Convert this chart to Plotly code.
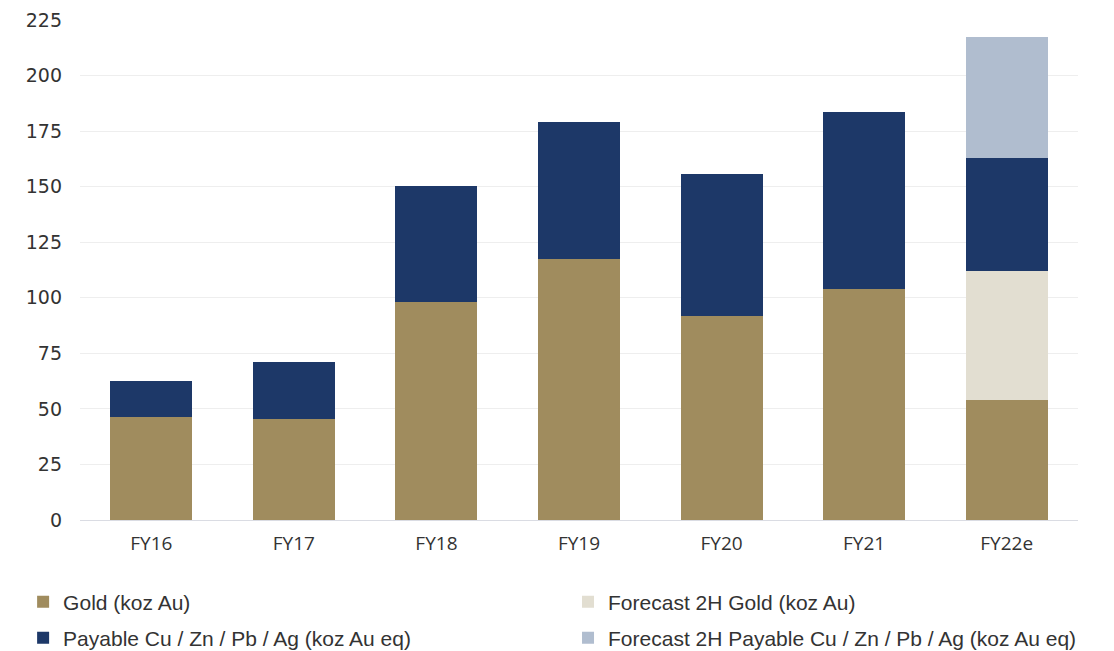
import plotly.graph_objects as go

categories = ["FY16", "FY17", "FY18", "FY19", "FY20", "FY21", "FY22e"]
gold = [46.2, 45.4, 97.9, 117.5, 91.6, 104.0, 54.2]
forecast_gold = [None, None, None, None, None, None, 57.8]
payable = [16.3, 25.8, 52.3, 61.7, 64.0, 79.6, 50.8]
forecast_payable = [None, None, None, None, None, None, 54.7]

y_ticks = [0, 25, 50, 75, 100, 125, 150, 175, 200, 225]

series = [
    ("Gold (koz Au)", gold, "#A08C5E", "legend"),
    ("Forecast 2H Gold (koz Au)", forecast_gold, "#E2DED1", "legend2"),
    ("Payable Cu / Zn / Pb / Ag (koz Au eq)", payable, "#1D3868", "legend3"),
    ("Forecast 2H Payable Cu / Zn / Pb / Ag (koz Au eq)", forecast_payable, "#B0BDCF", "legend4"),
]

fig = go.Figure()
for name, vals, col, lg in series:
    fig.add_trace(go.Bar(
        x=categories, y=vals, name=name, legend=lg,
        marker=dict(color=col, line=dict(width=0)),
    ))

legend_common = dict(
    orientation="h",
    xanchor="left",
    yanchor="middle",
    font=dict(family="Liberation Sans", size=21, color="#333333"),
    bgcolor="rgba(0,0,0,0)",
)
col1_x, col2_x = -0.057, 0.489
row1_y, row2_y = -0.164, -0.236

fig.update_layout(
    width=1114, height=651,
    barmode="stack",
    bargap=0.425,
    plot_bgcolor="white",
    paper_bgcolor="white",
    margin=dict(l=80, r=36, t=20, b=131, autoexpand=False),
    font=dict(family="Liberation Sans", color="#333333"),
    showlegend=True,
    legend=dict(legend_common, x=col1_x, y=row1_y),
    legend2=dict(legend_common, x=col2_x, y=row1_y),
    legend3=dict(legend_common, x=col1_x, y=row2_y),
    legend4=dict(legend_common, x=col2_x, y=row2_y),
)
fig.update_xaxes(
    tickfont=dict(family="Open Sans", size=19, color="#333333"),
    showgrid=False,
    showline=True, linecolor="#DADCE3", linewidth=1,
    ticks="", ticklabelstandoff=6,
)
fig.update_yaxes(
    range=[0, 225],
    tickvals=y_ticks,
    tickfont=dict(family="DejaVu Sans", size=19, color="#333333"),
    showgrid=True, gridcolor="#EEEEEE", gridwidth=1,
    zeroline=False, showline=False,
    ticks="", ticklabelstandoff=17,
)

fig.write_html("out.html", config={"displayModeBar": False},
               post_script="document.body.style.margin='0';")
